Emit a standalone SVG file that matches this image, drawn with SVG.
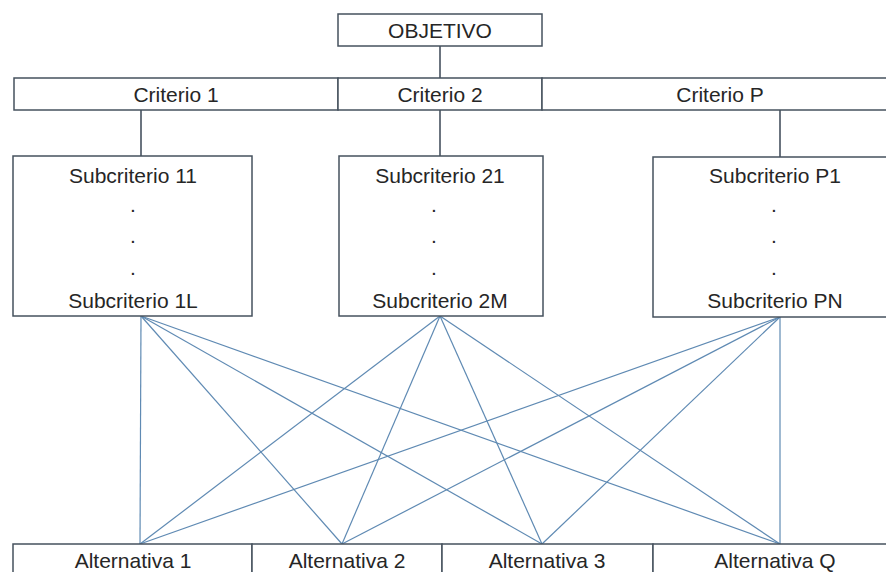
<svg xmlns="http://www.w3.org/2000/svg" width="886" height="572" viewBox="0 0 886 572">
<style>
.box{fill:#fff;stroke:#46525e;stroke-width:1.5}
.t{font-family:"Liberation Sans",Arial,sans-serif;font-size:21px;fill:#262626;text-anchor:middle}
.dark{stroke:#3a4654;stroke-width:1.5;fill:none}
.blue{stroke:#5f8ab3;stroke-width:1.2;fill:none}
</style>
<rect width="886" height="572" fill="#fff"/>
<g id="connectors">
<line class="dark" x1="440" y1="46" x2="440" y2="78"/>
<line class="dark" x1="141" y1="110" x2="141" y2="156"/>
<line class="dark" x1="440" y1="110" x2="440" y2="156"/>
<line class="dark" x1="780" y1="110" x2="780" y2="157" stroke-width="2.5"/>
<g class="blue">
<line x1="141" y1="316" x2="140" y2="544"/>
<line x1="141" y1="316" x2="342" y2="544"/>
<line x1="141" y1="316" x2="542" y2="544"/>
<line x1="141" y1="316" x2="780" y2="544"/>
<line x1="440" y1="316" x2="140" y2="544"/>
<line x1="440" y1="316" x2="342" y2="544"/>
<line x1="440" y1="316" x2="542" y2="544"/>
<line x1="440" y1="316" x2="780" y2="544"/>
<line x1="780" y1="317" x2="140" y2="544"/>
<line x1="780" y1="317" x2="342" y2="544"/>
<line x1="780" y1="317" x2="542" y2="544"/>
<line x1="780" y1="317" x2="780" y2="544"/>
</g>
</g>
<g id="objetivo">
<rect class="box" x="338" y="14" width="204" height="32"/>
<text class="t" x="440" y="38" font-size="19.5">OBJETIVO</text>
</g>
<g id="criterio1">
<rect class="box" x="14" y="78" width="324" height="32"/>
<text class="t" x="176" y="102">Criterio 1</text>
</g>
<g id="criterio2">
<rect class="box" x="338" y="78" width="204" height="32"/>
<text class="t" x="440" y="102">Criterio 2</text>
</g>
<g id="criterioP">
<rect class="box" x="542" y="78" width="356" height="32"/>
<text class="t" x="720" y="102">Criterio P</text>
</g>
<g id="sub1">
<rect class="box" x="13" y="156" width="239" height="160"/>
<text class="t" x="133" y="183">Subcriterio 11</text>
<text class="t" x="133" y="212">.</text>
<text class="t" x="133" y="243">.</text>
<text class="t" x="133" y="275">.</text>
<text class="t" x="133" y="308">Subcriterio 1L</text>
</g>
<g id="sub2">
<rect class="box" x="339" y="156" width="204" height="160"/>
<text class="t" x="440" y="183">Subcriterio 21</text>
<text class="t" x="434" y="212">.</text>
<text class="t" x="434" y="243">.</text>
<text class="t" x="434" y="275">.</text>
<text class="t" x="440" y="308">Subcriterio 2M</text>
</g>
<g id="subP">
<rect class="box" x="653" y="157" width="245" height="160"/>
<text class="t" x="775" y="183">Subcriterio P1</text>
<text class="t" x="774" y="212">.</text>
<text class="t" x="774" y="243">.</text>
<text class="t" x="774" y="275">.</text>
<text class="t" x="775" y="308">Subcriterio PN</text>
</g>
<g id="alt1">
<rect class="box" x="13" y="544" width="239" height="40"/>
<text class="t" x="133" y="568">Alternativa 1</text>
</g>
<g id="alt2">
<rect class="box" x="252" y="544" width="190" height="40"/>
<text class="t" x="347" y="568">Alternativa 2</text>
</g>
<g id="alt3">
<rect class="box" x="442" y="544" width="211" height="40"/>
<text class="t" x="547" y="568">Alternativa 3</text>
</g>
<g id="altQ">
<rect class="box" x="653" y="544" width="245" height="40"/>
<text class="t" x="775" y="568">Alternativa Q</text>
</g>
</svg>
